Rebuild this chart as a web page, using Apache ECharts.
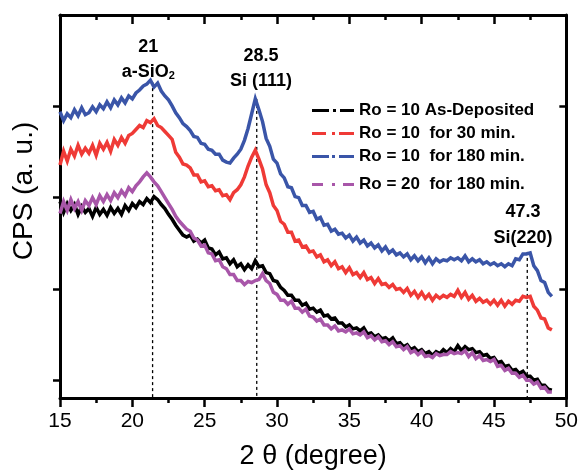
<!DOCTYPE html>
<html>
<head>
<meta charset="utf-8">
<script src="https://cdn.jsdelivr.net/npm/echarts@6/dist/echarts.min.js"></script>
<style>html,body{margin:0;padding:0;background:#fff;}#chart{width:581px;height:475px;}</style>
</head>
<body>
<div id="chart"></div>
<script>
// 2θ sampling positions (degree)
var twoTheta = [
15,15.25,15.5,15.75,16,16.25,16.5,16.75,17,17.25,17.5,17.75,18,18.25,18.5,18.75,
19,19.25,19.5,19.75,20,20.25,20.5,20.75,21,21.25,21.5,21.75,22,22.25,22.5,22.75,
23,23.25,23.5,23.75,24,24.25,24.5,24.75,25,25.25,25.5,25.75,26,26.25,26.5,26.75,
27,27.25,27.5,27.75,28,28.25,28.5,28.75,29,29.25,29.5,29.75,30,30.25,30.5,30.75,
31,31.25,31.5,31.75,32,32.25,32.5,32.75,33,33.25,33.5,33.75,34,34.25,34.5,34.75,
35,35.25,35.5,35.75,36,36.25,36.5,36.75,37,37.25,37.5,37.75,38,38.25,38.5,38.75,
39,39.25,39.5,39.75,40,40.25,40.5,40.75,41,41.25,41.5,41.75,42,42.25,42.5,42.75,
43,43.25,43.5,43.75,44,44.25,44.5,44.75,45,45.25,45.5,45.75,46,46.25,46.5,46.75,
47,47.25,47.5,47.75,48,48.25,48.5,48.75,49
];
// CPS (a. u.) values
var asDeposited = [
199,188,197,190, 196,186,194,188, 192,184,193,186, 191,185,193,187,
192,186,195,190, 197,193,199,196, 202,198,204,201, 196,192,186,181,
175,170,165,163, 165,159,161,157, 160,152,151,145, 148,141,142,136,
140,133,136,130, 135,131,139,133, 134,127,126,119, 118,112,109,104,
104,99,99,94, 96,90,91,87, 89,83,84,80, 81,76,76,72,
74,70,71,68, 71,65,66,62, 64,60,61,58, 61,55,56,52,
54,49,51,47, 49,45,47,43, 47,45,49,46, 50,47,53,48,
52,49,50,46, 47,43,44,40, 41,36,37,32, 33,28,29,25,
27,22,22,18, 19,13,13,9, 8
];
var ro10min30 = [
236,250,240,252, 245,256,247,253, 248,256,246,258, 252,259,250,262,
256,264,258,266, 268,272,276,274, 281,279,283,276, 274,270,266,262,
249,244,237,236, 233,226,226,219, 220,214,215,210, 211,205,206,201,
208,211,216,224, 235,244,251,242, 232,216,208,195, 190,179,176,168,
168,159,160,153, 154,148,149,143, 145,138,140,134, 138,131,133,127,
132,125,127,122, 127,120,122,116, 121,115,116,112, 115,110,111,107,
111,104,108,102, 107,101,105,99, 104,101,104,102, 105,103,109,102,
107,100,104,98, 101,97,99,95, 99,94,99,93, 98,95,99,98,
103,102,103,93, 89,81,80,71, 69
];
var ro10min180 = [
290,281,288,284, 292,286,294,287, 289,295,290,297, 293,300,294,302,
297,304,299,306, 303,309,312,316, 318,322,315,319, 311,306,302,296,
289,284,278,275, 271,265,264,258, 257,252,251,247, 247,241,239,238,
243,247,252,261, 273,288,303,292, 280,263,255,242, 238,227,223,214,
213,204,203,195, 195,188,189,181, 183,175,176,169, 171,166,167,162,
165,159,163,157, 160,154,157,152, 155,149,153,147, 150,145,147,143,
146,140,144,139, 143,137,142,136, 141,138,140,139, 142,140,142,139,
144,138,141,138, 140,136,138,135, 137,134,136,133, 136,134,141,140,
146,146,147,134, 129,119,117,107, 103
];
var ro20min180 = [
187,199,190,201, 192,199,190,200, 195,203,196,205, 199,206,200,208,
203,210,205,213, 209,215,219,224, 228,224,219,215, 209,203,197,191,
184,179,175,171, 169,162,160,154, 155,147,146,139, 140,133,131,125,
125,119,119,115, 118,117,119,120, 126,119,116,107, 105,99,99,95,
98,91,91,87, 90,83,82,78, 80,74,74,70, 73,68,69,67,
70,65,66,64, 67,61,63,59, 62,57,58,54, 57,52,53,49,
52,46,48,44, 47,42,43,41, 45,43,44,44, 47,45,46,45,
48,42,46,40, 43,38,39,37, 39,32,33,28, 30,25,25,21,
23,18,18,14, 16,10,11,6, 6
];
var seriesNames = ['Ro = 10 As-Deposited', 'Ro = 10  for 30 min.', 'Ro = 10  for 180 min.', 'Ro = 20  for 180 min.'];
var xTicks = [15, 20, 25, 30, 35, 40, 45, 50];
// peak reference lines
var peakPositions = [21.4, 28.6, 47.3];
var peakTops = [320, 303, 148];
// peak annotations
var annotX = [21.1, 21.1, 28.9, 28.9, 47.0, 47.0];
var annotY = [356, 330, 346, 321, 188, 162];
var annotText = ['21', 'a-SiO{s|2}', '28.5', 'Si (111)', '47.3', 'Si(220)'];

var FONT = 'Arial, "Liberation Sans", sans-serif';
var colors = ['#000000', '#ef3a36', '#3a55a8', '#a856a9'];
var icons = [
  'path://M0,0h17v3h-17zM21,0h3v3h-3zM28,0h14v3h-14z',
  'path://M0,0h14v3h-14zM20,0h3v3h-3zM27,0h15v3h-15z',
  'path://M0,0h17v3h-17zM20,0h3v3h-3zM27,0h15v3h-15z',
  'path://M0,0h11v3h-11zM20,0h3v3h-3zM31,0h11v3h-11z'
];
var dataSets = [asDeposited, ro10min30, ro10min180, ro20min180];

function pairs(xs, ys) { var r = []; for (var i = 0; i < ys.length; i++) r.push([xs[i], ys[i]]); return r; }

var series = dataSets.map(function (d, k) {
  return {
    name: seriesNames[k], type: 'line', xAxisIndex: 0, yAxisIndex: 0,
    data: pairs(twoTheta, d), showSymbol: false, symbol: 'none',
    color: colors[k], itemStyle: { color: colors[k] },
    lineStyle: { width: 3.5, color: colors[k], join: 'miter' }, animation: false, z: 3 + k
  };
});
peakPositions.forEach(function (p, k) {
  series.push({
    type: 'line', xAxisIndex: 0, yAxisIndex: 0, symbol: 'none', silent: true,
    data: [[p, peakTops[k]], [p, 0]],
    lineStyle: { type: [3, 3], width: 1.3, color: '#000' }, animation: false, z: 2
  });
});
series.push({
  type: 'scatter', xAxisIndex: 0, yAxisIndex: 0, symbolSize: 1, silent: true, animation: false,
  itemStyle: { color: 'rgba(0,0,0,0)' },
  data: annotX.map(function (x, i) { return { value: [x, annotY[i]], name: annotText[i] }; }),
  label: {
    show: true, position: 'inside', formatter: function (p) { return p.name; },
    color: '#000', textBorderWidth: 0, textBorderColor: 'transparent', opacity: 1,
    fontFamily: FONT, fontWeight: 'bold', fontSize: 18,
    rich: { s: { fontSize: 11, fontWeight: 'bold', fontFamily: FONT, color: '#000', textBorderWidth: 0, verticalAlign: 'bottom', padding: [8, 0, 0, 0] } }
  }, z: 10
});

function legendItems(names, from) {
  return names.map(function (n, i) { return { name: n, icon: icons[from + i], itemStyle: { color: colors[from + i] } }; });
}

var chart = echarts.init(document.getElementById('chart'), null, { renderer: 'canvas' });
chart.setOption({
  backgroundColor: '#ffffff',
  animation: false,
  grid: { left: 60, right: 14, top: 15, bottom: 72, containLabel: false },
  legend: [
    {
      data: legendItems(seriesNames.slice(0, 3), 0), orient: 'vertical', left: 307, top: 97,
      itemWidth: 42, itemHeight: 3, itemGap: 6, selectedMode: false,
      textStyle: { fontFamily: FONT, fontSize: 17, fontWeight: 'bold', color: '#000' }
    },
    {
      data: legendItems(seriesNames.slice(3), 3), orient: 'vertical', left: 307, top: 171,
      itemWidth: 42, itemHeight: 3, selectedMode: false,
      textStyle: { fontFamily: FONT, fontSize: 17, fontWeight: 'bold', color: '#000' }
    }
  ],
  xAxis: [
    {
      type: 'value', position: 'bottom', min: 15, max: 50, interval: 5,
      name: '2 \u03b8 (degree)', nameLocation: 'middle', nameGap: 45,
      nameTextStyle: { fontFamily: FONT, fontSize: 27, color: '#000' },
      axisLine: { onZero: false, lineStyle: { color: '#000', width: 3 } },
      axisTick: { show: true, inside: false, length: 9, lineStyle: { width: 2.5, color: '#000' } },
      minorTick: { show: true, splitNumber: 2, length: 5, lineStyle: { width: 2.5, color: '#000' } },
      axisLabel: { customValues: xTicks, fontFamily: FONT, fontSize: 21, color: '#000', margin: 13 },
      splitLine: { show: false }
    },
    {
      type: 'value', position: 'top', min: 15, max: 50, interval: 5,
      axisLine: { onZero: false, lineStyle: { color: '#000', width: 3 } },
      axisTick: { show: true, inside: true, length: 9, lineStyle: { width: 2.5, color: '#000' } },
      minorTick: { show: true, splitNumber: 2, length: 5, lineStyle: { width: 2.5, color: '#000' } },
      axisLabel: { show: false }, splitLine: { show: false }
    }
  ],
  yAxis: [
    {
      type: 'value', position: 'left', min: 0, max: 388,
      axisLine: { onZero: false, lineStyle: { color: '#000', width: 3 } },
      axisTick: { show: true, inside: false, length: 7, customValues: [18, 110.5, 203, 295.5], lineStyle: { width: 2.5, color: '#000' } },
      axisLabel: { show: false }, splitLine: { show: false }
    },
    {
      type: 'value', position: 'right', min: 0, max: 388,
      axisLine: { onZero: false, lineStyle: { color: '#000', width: 3 } },
      axisTick: { show: true, inside: true, length: 7, customValues: [110.5, 295.5], lineStyle: { width: 2.5, color: '#000' } },
      axisLabel: { show: false }, splitLine: { show: false }
    }
  ],
  graphic: [
    {
      type: 'text', x: 24, y: 191, rotation: Math.PI / 2,
      style: { text: 'CPS (a. u.)', fontFamily: FONT, fontSize: 28, fill: '#000', align: 'center', verticalAlign: 'middle' }
    }
  ],
  series: series
});
</script>
</body>
</html>
